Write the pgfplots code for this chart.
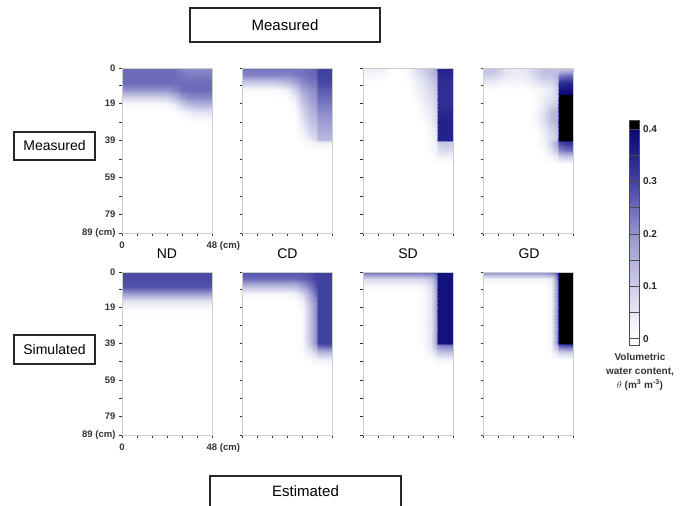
\documentclass[border=0pt]{standalone}
\usepackage{fontspec}
\setmainfont{Liberation Sans}
\usepackage{pgfplots}
\usepackage{pgfplotstable}
\pgfplotsset{compat=1.18}

% volumetric water content x100 (m3 m-3 in %)
% 14 values per line: x = 0 4 8 12 16 20 24 28 32 36 39 40 44 48 cm
% one line per depth: 0 4 8 12 16 20 24 28 32 36 39 40 44 48 52 cm (lines not given are 0)

% --- measured ---
\pgfplotstableread[row sep=\\]{
t\\
25\\25\\25\\25\\25\\25\\25\\25\\22\\21\\21\\21\\21\\21\\
25\\25\\25\\25\\25\\25\\25\\25\\24\\23\\23\\23\\23\\23\\
25\\25\\25\\25\\25\\25\\25\\25\\25\\25\\25\\25\\25\\25\\
20\\20\\20\\20\\20\\20\\20\\22\\25\\25\\25\\25\\25\\25\\
8\\8\\8\\8\\8\\8\\9\\12\\18\\21\\21\\21\\21\\21\\
1\\1\\1\\1\\1\\1\\1\\3\\9\\13\\14\\14\\14\\14\\
0\\0\\0\\0\\0\\0\\0\\0\\2\\4\\6\\6\\6\\6\\
0\\0\\0\\0\\0\\0\\0\\0\\0\\0\\1\\1\\1\\1\\
0\\0\\0\\0\\0\\0\\0\\0\\0\\0\\0\\0\\0\\0\\
}\ndm

\pgfplotstableread[row sep=\\]{
t\\
24\\24\\24\\24\\24\\24\\24\\24\\24\\25\\26\\30\\30\\30\\
22\\22\\22\\22\\22\\22\\22\\23\\24\\25\\26\\30\\30\\30\\
10\\10\\10\\10\\10\\11\\13\\17\\21\\23\\24\\29\\29\\29\\
1\\1\\1\\1\\1\\2\\4\\9\\17\\20\\22\\27\\27\\27\\
0\\0\\0\\0\\0\\0\\1\\4\\13\\18\\20\\25\\25\\25\\
0\\0\\0\\0\\0\\0\\0\\2\\10\\16\\18\\23\\23\\23\\
0\\0\\0\\0\\0\\0\\0\\1\\8\\14\\16\\21\\21\\21\\
0\\0\\0\\0\\0\\0\\0\\0\\6\\12\\14\\19\\19\\19\\
0\\0\\0\\0\\0\\0\\0\\0\\4\\10\\12\\17\\17\\17\\
0\\0\\0\\0\\0\\0\\0\\0\\2\\7\\10\\15\\15\\15\\
0\\0\\0\\0\\0\\0\\0\\0\\1\\4\\7\\13\\13\\13\\
0\\0\\0\\0\\0\\0\\0\\0\\0\\2\\3\\4\\4\\4\\
0\\0\\0\\0\\0\\0\\0\\0\\0\\0\\0\\0\\0\\0\\
}\cdm

\pgfplotstableread[row sep=\\]{
t\\
4\\4\\4\\3\\0\\0\\2\\6\\10\\14\\18\\35\\35\\35\\
2\\2\\2\\1\\0\\0\\1\\5\\8\\12\\15\\34\\34\\34\\
0\\0\\0\\0\\0\\0\\0\\3\\6\\10\\13\\33\\33\\33\\
0\\0\\0\\0\\0\\0\\0\\2\\5\\8\\11\\33\\33\\33\\
0\\0\\0\\0\\0\\0\\0\\1\\4\\7\\10\\33\\33\\33\\
0\\0\\0\\0\\0\\0\\0\\0\\3\\6\\9\\33\\33\\33\\
0\\0\\0\\0\\0\\0\\0\\0\\2\\5\\8\\34\\34\\34\\
0\\0\\0\\0\\0\\0\\0\\0\\1\\4\\7\\35\\35\\35\\
0\\0\\0\\0\\0\\0\\0\\0\\0\\3\\6\\35\\35\\35\\
0\\0\\0\\0\\0\\0\\0\\0\\0\\2\\5\\35\\35\\35\\
0\\0\\0\\0\\0\\0\\0\\0\\0\\2\\4\\35\\35\\35\\
0\\0\\0\\0\\0\\0\\0\\0\\0\\2\\4\\10\\12\\10\\
0\\0\\0\\0\\0\\0\\0\\0\\0\\1\\3\\7\\8\\7\\
0\\0\\0\\0\\0\\0\\0\\0\\0\\0\\1\\2\\3\\2\\
0\\0\\0\\0\\0\\0\\0\\0\\0\\0\\0\\0\\0\\0\\
}\sdm

\pgfplotstableread[row sep=\\]{
t\\
12\\12\\10\\6\\5\\5\\7\\10\\13\\13\\12\\10\\10\\10\\
10\\10\\8\\5\\4\\4\\6\\9\\12\\12\\14\\22\\24\\24\\
4\\4\\3\\2\\2\\2\\3\\5\\7\\8\\12\\33\\34\\34\\
0\\0\\0\\0\\0\\0\\0\\1\\3\\5\\9\\37\\38\\38\\
0\\0\\0\\0\\0\\0\\0\\1\\4\\6\\9\\45\\45\\45\\
0\\0\\0\\0\\0\\0\\0\\1\\5\\9\\11\\45\\45\\45\\
0\\0\\0\\0\\0\\0\\0\\2\\7\\13\\15\\45\\45\\45\\
0\\0\\0\\0\\0\\0\\0\\2\\7\\13\\15\\45\\45\\45\\
0\\0\\0\\0\\0\\0\\0\\1\\5\\10\\13\\45\\45\\45\\
0\\0\\0\\0\\0\\0\\0\\0\\4\\8\\11\\45\\45\\45\\
0\\0\\0\\0\\0\\0\\0\\0\\3\\8\\12\\45\\45\\45\\
0\\0\\0\\0\\0\\0\\0\\0\\3\\10\\18\\30\\32\\32\\
0\\0\\0\\0\\0\\0\\0\\0\\1\\6\\12\\22\\25\\25\\
0\\0\\0\\0\\0\\0\\0\\0\\0\\2\\4\\8\\10\\10\\
0\\0\\0\\0\\0\\0\\0\\0\\0\\0\\0\\0\\0\\0\\
}\gdm

% --- simulated ---
\pgfplotstableread[row sep=\\]{
t\\
29\\29\\29\\29\\29\\29\\29\\29\\29\\29\\29\\29\\29\\29\\
29\\29\\29\\29\\29\\29\\29\\29\\29\\29\\29\\29\\29\\29\\
28\\28\\28\\28\\28\\28\\28\\28\\28\\28\\28\\28\\28\\28\\
18\\18\\18\\18\\18\\18\\18\\18\\18\\18\\18\\18\\18\\18\\
6\\6\\6\\6\\6\\6\\6\\6\\6\\6\\6\\6\\6\\6\\
1\\1\\1\\1\\1\\1\\1\\1\\1\\1\\1\\1\\1\\1\\
0\\0\\0\\0\\0\\0\\0\\0\\0\\0\\0\\0\\0\\0\\
}\nds

\pgfplotstableread[row sep=\\]{
t\\
28\\28\\28\\28\\28\\28\\28\\28\\28\\29\\30\\30\\30\\30\\
25\\25\\25\\25\\25\\25\\25\\25\\26\\28\\30\\30\\30\\30\\
12\\12\\12\\12\\12\\12\\12\\13\\17\\23\\28\\30\\30\\30\\
2\\2\\2\\2\\2\\2\\2\\3\\8\\18\\25\\30\\30\\30\\
0\\0\\0\\0\\0\\0\\0\\0\\3\\14\\22\\30\\30\\30\\
0\\0\\0\\0\\0\\0\\0\\0\\1\\12\\21\\30\\30\\30\\
0\\0\\0\\0\\0\\0\\0\\0\\1\\12\\21\\30\\30\\30\\
0\\0\\0\\0\\0\\0\\0\\0\\1\\12\\21\\30\\30\\30\\
0\\0\\0\\0\\0\\0\\0\\0\\1\\12\\21\\30\\30\\30\\
0\\0\\0\\0\\0\\0\\0\\0\\1\\12\\21\\30\\30\\30\\
0\\0\\0\\0\\0\\0\\0\\0\\1\\11\\20\\30\\30\\30\\
0\\0\\0\\0\\0\\0\\0\\0\\1\\10\\18\\27\\28\\28\\
0\\0\\0\\0\\0\\0\\0\\0\\0\\4\\8\\12\\13\\13\\
0\\0\\0\\0\\0\\0\\0\\0\\0\\1\\2\\3\\3\\3\\
0\\0\\0\\0\\0\\0\\0\\0\\0\\0\\0\\0\\0\\0\\
}\cds

\pgfplotstableread[row sep=\\]{
t\\
26\\26\\26\\26\\26\\26\\26\\26\\26\\26\\28\\38\\38\\38\\
8\\8\\8\\8\\8\\8\\8\\8\\9\\12\\20\\38\\38\\38\\
1\\1\\1\\1\\1\\1\\1\\1\\2\\7\\18\\38\\38\\38\\
0\\0\\0\\0\\0\\0\\0\\0\\1\\6\\17\\38\\38\\38\\
0\\0\\0\\0\\0\\0\\0\\0\\1\\6\\17\\38\\38\\38\\
0\\0\\0\\0\\0\\0\\0\\0\\1\\6\\17\\38\\38\\38\\
0\\0\\0\\0\\0\\0\\0\\0\\1\\6\\17\\38\\38\\38\\
0\\0\\0\\0\\0\\0\\0\\0\\1\\6\\17\\38\\38\\38\\
0\\0\\0\\0\\0\\0\\0\\0\\1\\6\\17\\38\\38\\38\\
0\\0\\0\\0\\0\\0\\0\\0\\1\\6\\17\\38\\38\\38\\
0\\0\\0\\0\\0\\0\\0\\0\\1\\6\\17\\38\\38\\38\\
0\\0\\0\\0\\0\\0\\0\\0\\1\\6\\15\\22\\24\\24\\
0\\0\\0\\0\\0\\0\\0\\0\\0\\3\\7\\10\\11\\11\\
0\\0\\0\\0\\0\\0\\0\\0\\0\\0\\1\\2\\2\\2\\
0\\0\\0\\0\\0\\0\\0\\0\\0\\0\\0\\0\\0\\0\\
}\sds

\pgfplotstableread[row sep=\\]{
t\\
22\\22\\22\\22\\22\\22\\22\\22\\22\\24\\30\\45\\45\\45\\
2\\2\\2\\2\\2\\2\\2\\2\\2\\4\\22\\45\\45\\45\\
0\\0\\0\\0\\0\\0\\0\\0\\0\\2\\20\\45\\45\\45\\
0\\0\\0\\0\\0\\0\\0\\0\\0\\2\\20\\45\\45\\45\\
0\\0\\0\\0\\0\\0\\0\\0\\0\\2\\20\\45\\45\\45\\
0\\0\\0\\0\\0\\0\\0\\0\\0\\2\\20\\45\\45\\45\\
0\\0\\0\\0\\0\\0\\0\\0\\0\\2\\20\\45\\45\\45\\
0\\0\\0\\0\\0\\0\\0\\0\\0\\2\\20\\45\\45\\45\\
0\\0\\0\\0\\0\\0\\0\\0\\0\\2\\20\\45\\45\\45\\
0\\0\\0\\0\\0\\0\\0\\0\\0\\2\\20\\45\\45\\45\\
0\\0\\0\\0\\0\\0\\0\\0\\0\\2\\20\\45\\45\\45\\
0\\0\\0\\0\\0\\0\\0\\0\\0\\2\\15\\28\\30\\30\\
0\\0\\0\\0\\0\\0\\0\\0\\0\\1\\5\\8\\9\\9\\
0\\0\\0\\0\\0\\0\\0\\0\\0\\0\\0\\0\\0\\0\\
}\gds

% grid position from node index: 0,4,...,36,39,40,44,48,52
\pgfkeys{/pgf/declare function={gp(\i)=4*\i-(\i==10)-4*(\i>10);}}

\pgfplotsset{
  colormap={vwc}{
    rgb255(0cm)=(255,255,255) rgb255(1.2cm)=(255,255,255)
    rgb255(6.2cm)=(232,232,245) rgb255(11.2cm)=(205,205,232)
    rgb255(16.2cm)=(178,178,220) rgb255(21.2cm)=(148,148,206)
    rgb255(26.2cm)=(108,108,186) rgb255(31.2cm)=(66,66,160)
    rgb255(36.2cm)=(34,34,140) rgb255(41.1cm)=(8,8,115)
    rgb255(41.2cm)=(0,0,0) rgb255(42.9cm)=(0,0,0)},
  panel/.style={
    scale only axis, width=90pt, anchor=south west,
    xmin=0, xmax=48, ymin=-89, ymax=0,
    xtick={0,8,...,48}, xticklabel={\mbox{}},
    ytick={-89,-79,-69,-59,-49,-39,-29,-19,-9.5,0}, yticklabel={\mbox{}},
    tick pos=left, tick align=outside, major tick length=3pt,
    tick style={black!80, line width=0.5pt},
    axis line style={draw=gray!40},
    axis on top,
    tick label style={font=\fontsize{9.5}{10}\selectfont\bfseries, text=black!80},
    point meta min=-1.2, point meta max=41.7,
    clip=false,
    execute at end axis={\draw[black!80, line width=0.6pt]
      (axis cs:0,0) |- (axis cs:48,-89);},
  },
  labeled/.style={
    xticklabels={0,,,,,,{48\rlap{ (cm)}}},
    yticklabels={89 (cm),79,,59,,39,,19,,0},
    xticklabel style={yshift=-2pt},
  },
  vwc/.style={surf, shader=interp, mesh/cols=14, point meta=\thisrow{t}},
}
\newcommand\field[1]{\addplot[vwc] table[x index=0, y index=0,
  x expr={gp(mod(\coordindex,14))},
  y expr={-gp(floor(\coordindex/14))}] {#1};}

\begin{document}
\begin{tikzpicture}
\useasboundingbox (0,0) rectangle (681pt,506pt);

% measured row
\begin{axis}[panel, labeled, height=165pt, at={(122pt,273pt)}]
\field{\ndm}
\end{axis}
\begin{axis}[panel, height=165pt, at={(242.5pt,273pt)}]
\field{\cdm}
\end{axis}
\begin{axis}[panel, height=165pt, at={(363pt,273pt)}]
\field{\sdm}
\end{axis}
\begin{axis}[panel, height=165pt, at={(483.5pt,273pt)},
  colorbar,
  colorbar style={
    at={(parent axis.south east)}, anchor=south west,
    xshift=47.5pt, yshift=-112pt,
    scale only axis, width=10pt, height=225pt,
    ytick={0,10,20,30,40}, yticklabels={0,0.1,0.2,0.3,0.4},
    minor ytick={5,15,25,35},
    ymajorgrids, yminorgrids,
    major grid style={black!70, line width=0.5pt},
    minor grid style={black!70, line width=0.5pt},
    major tick length=0pt, minor tick length=0pt,
    axis on top,
    axis line style={black!70, line width=0.6pt},
    yticklabel style={font=\fontsize{10}{10}\selectfont\bfseries, text=black!85},
  }]
\field{\gdm}
\end{axis}

% simulated row
\begin{axis}[panel, labeled, height=163pt, at={(122pt,71pt)}]
\field{\nds}
\end{axis}
\begin{axis}[panel, height=163pt, at={(242.5pt,71pt)}]
\field{\cds}
\end{axis}
\begin{axis}[panel, height=163pt, at={(363pt,71pt)}]
\field{\sds}
\end{axis}
\begin{axis}[panel, height=163pt, at={(483.5pt,71pt)}]
\field{\gds}
\end{axis}

% treatment names
\foreach \nm/\xc in {ND/167, CD/287.5, SD/408, GD/529}
  \node[font=\fontsize{14}{14}\selectfont] at (\xc pt,252pt) {\nm};

% boxes
\draw[line width=1.3pt, black!85] (190pt,464pt) rectangle (380pt,498pt);
\node[font=\fontsize{15}{15}\selectfont] at (285pt,481pt) {Measured};
\draw[line width=1.1pt, black!85] (14pt,346pt) rectangle (95pt,374pt);
\node[font=\fontsize{14}{14}\selectfont] at (54.5pt,360pt) {Measured};
\draw[line width=1.1pt, black!85] (14pt,142pt) rectangle (95pt,171pt);
\node[font=\fontsize{14}{14}\selectfont] at (54.5pt,156.5pt) {Simulated};
\draw[line width=1.3pt, black!85] (210pt,0pt) -- (210pt,30pt) -- (401pt,30pt) -- (401pt,0pt);
\node[font=\fontsize{15}{15}\selectfont] at (305.5pt,15pt) {Estimated};

% colour bar caption
\node[font=\fontsize{10}{14}\selectfont\bfseries, text=black!80, align=center]
  at (640pt,134pt) {Volumetric\\water content,\\{\mdseries$\theta$} (m\textsuperscript{3} m\textsuperscript{-3})};
\end{tikzpicture}
\end{document}
